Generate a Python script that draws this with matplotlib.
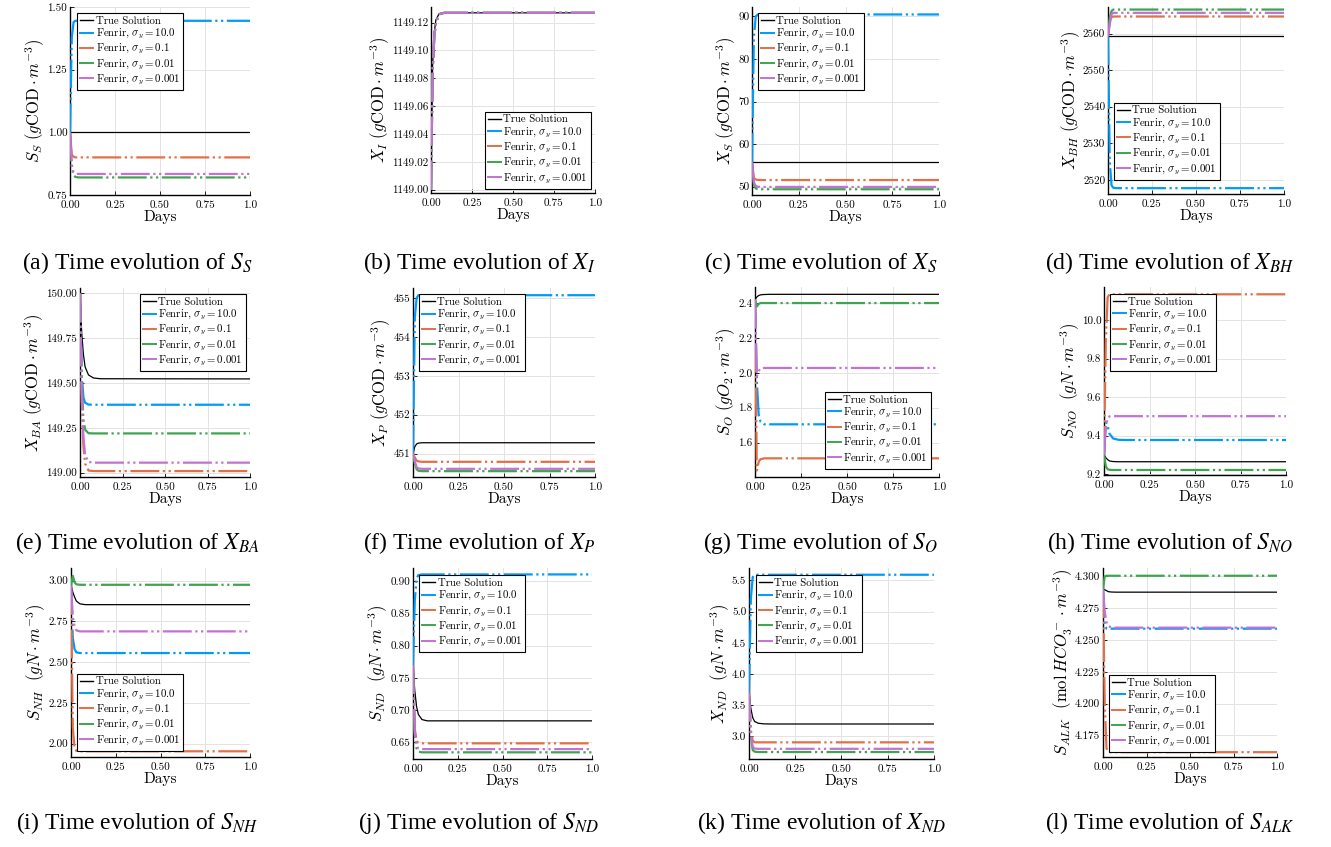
import matplotlib
matplotlib.use("Agg")
import matplotlib.pyplot as plt

plt.rcParams["font.family"] = "cmr10"
plt.rcParams["mathtext.fontset"] = "cm"
plt.rcParams["axes.unicode_minus"] = False
plt.rcParams["axes.formatter.use_mathtext"] = True

# ---------------- data ----------------
T_DAYS = [0.0, 0.01, 0.02, 0.03, 0.05, 0.08, 0.12, 1.0]
SERIES_LABELS = ["True Solution",
                 r"Fenrir, $\sigma_y = 10.0$",
                 r"Fenrir, $\sigma_y = 0.1$",
                 r"Fenrir, $\sigma_y = 0.01$",
                 r"Fenrir, $\sigma_y = 0.001$"]
XTICK_LABELS = ["0.00", "0.25", "0.50", "0.75", "1.0"]

# order of rows: true, 10.0, 0.1, 0.01, 0.001
SS_VALUES = [
    [1.00, 1.00, 1.00, 1.00, 1.00, 1.00, 1.00, 1.00],
    [1.00, 1.38, 1.44, 1.445, 1.445, 1.445, 1.445, 1.445],
    [1.00, 0.91, 0.903, 0.90, 0.90, 0.90, 0.90, 0.90],
    [1.00, 0.86, 0.83, 0.822, 0.82, 0.82, 0.82, 0.82],
    [1.00, 0.87, 0.84, 0.835, 0.834, 0.834, 0.834, 0.834]]
SS_YTICKS = ["0.75", "1.00", "1.25", "1.50"]

XI_VALUES = [
    [1149.00, 1149.09, 1149.113, 1149.122, 1149.1265, 1149.127, 1149.127, 1149.127],
    [1149.00, 1149.085, 1149.11, 1149.12, 1149.126, 1149.127, 1149.127, 1149.127],
    [1149.00, 1149.085, 1149.11, 1149.12, 1149.126, 1149.127, 1149.127, 1149.127],
    [1149.00, 1149.085, 1149.11, 1149.12, 1149.126, 1149.127, 1149.127, 1149.127],
    [1149.00, 1149.085, 1149.11, 1149.12, 1149.126, 1149.127, 1149.127, 1149.127]]
XI_YTICKS = ["1149.00", "1149.02", "1149.04", "1149.06", "1149.08", "1149.10", "1149.12"]

XS_VALUES = [
    [55.8, 55.8, 55.8, 55.8, 55.8, 55.8, 55.8, 55.8],
    [55.8, 85.0, 90.0, 90.4, 90.45, 90.45, 90.45, 90.45],
    [55.8, 52.0, 51.7, 51.6, 51.56, 51.56, 51.56, 51.56],
    [55.8, 50.5, 49.6, 49.45, 49.4, 49.4, 49.4, 49.4],
    [55.8, 51.0, 50.2, 50.0, 49.95, 49.95, 49.95, 49.95]]
XS_YTICKS = ["50", "60", "70", "80", "90"]

XBH_VALUES = [
    [2559.3, 2559.3, 2559.3, 2559.3, 2559.3, 2559.3, 2559.3, 2559.3],
    [2559.3, 2525.0, 2518.5, 2517.8, 2517.7, 2517.7, 2517.7, 2517.7],
    [2559.3, 2563.5, 2564.5, 2564.7, 2564.7, 2564.7, 2564.7, 2564.7],
    [2559.3, 2564.5, 2566.2, 2566.6, 2566.6, 2566.6, 2566.6, 2566.6],
    [2559.3, 2562.5, 2565.3, 2565.7, 2565.7, 2565.7, 2565.7, 2565.7]]
XBH_YTICKS = ["2520", "2530", "2540", "2550", "2560"]

XBA_VALUES = [
    [150.0, 149.78, 149.66, 149.59, 149.545, 149.528, 149.524, 149.523],
    [150.0, 149.55, 149.42, 149.39, 149.38, 149.379, 149.379, 149.379],
    [150.0, 149.40, 149.15, 149.05, 149.012, 149.009, 149.009, 149.009],
    [150.0, 149.50, 149.30, 149.24, 149.22, 149.219, 149.219, 149.219],
    [150.0, 149.45, 149.20, 149.10, 149.06, 149.056, 149.056, 149.056]]
XBA_YTICKS = ["149.00", "149.25", "149.50", "149.75", "150.00"]

XP_VALUES = [
    [451.0, 451.18, 451.25, 451.27, 451.28, 451.28, 451.28, 451.28],
    [451.0, 454.5, 455.0, 455.07, 455.07, 455.07, 455.07, 455.07],
    [451.0, 450.9, 450.82, 450.80, 450.79, 450.79, 450.79, 450.79],
    [451.0, 450.75, 450.60, 450.56, 450.55, 450.55, 450.55, 450.55],
    [451.0, 450.80, 450.65, 450.62, 450.61, 450.61, 450.61, 450.61]]
XP_YTICKS = ["451", "452", "453", "454", "455"]

SO_VALUES = [
    [2.42, 2.435, 2.443, 2.447, 2.449, 2.45, 2.45, 2.45],
    [2.42, 1.95, 1.76, 1.72, 1.705, 1.705, 1.705, 1.705],
    [2.42, 1.44, 1.49, 1.505, 1.51, 1.51, 1.51, 1.51],
    [2.42, 2.38, 2.395, 2.40, 2.40, 2.40, 2.40, 2.40],
    [2.42, 1.98, 2.01, 2.025, 2.028, 2.028, 2.028, 2.028]]
SO_YTICKS = ["1.6", "1.8", "2.0", "2.2", "2.4"]

SNO_VALUES = [
    [9.30, 9.285, 9.275, 9.268, 9.265, 9.264, 9.264, 9.264],
    [9.30, 9.47, 9.45, 9.41, 9.385, 9.378, 9.377, 9.377],
    [9.30, 9.90, 10.12, 10.135, 10.135, 10.135, 10.135, 10.135],
    [9.30, 9.24, 9.225, 9.222, 9.221, 9.221, 9.221, 9.221],
    [9.30, 9.44, 9.49, 9.50, 9.501, 9.501, 9.501, 9.501]]
SNO_YTICKS = ["9.2", "9.4", "9.6", "9.8", "10.0"]

SNH_VALUES = [
    [2.97, 2.93, 2.90, 2.875, 2.858, 2.853, 2.853, 2.853],
    [2.97, 2.65, 2.58, 2.56, 2.556, 2.556, 2.556, 2.556],
    [2.97, 2.10, 1.97, 1.955, 1.953, 1.953, 1.953, 1.953],
    [2.97, 3.03, 2.99, 2.978, 2.975, 2.975, 2.975, 2.975],
    [2.97, 2.78, 2.72, 2.695, 2.689, 2.689, 2.689, 2.689]]
SNH_YTICKS = ["2.00", "2.25", "2.50", "2.75", "3.00"]

SND_VALUES = [
    [0.77, 0.73, 0.705, 0.693, 0.685, 0.683, 0.683, 0.683],
    [0.77, 0.87, 0.905, 0.91, 0.911, 0.911, 0.911, 0.911],
    [0.77, 0.67, 0.652, 0.649, 0.648, 0.648, 0.648, 0.648],
    [0.77, 0.66, 0.640, 0.635, 0.634, 0.634, 0.634, 0.634],
    [0.77, 0.665, 0.645, 0.640, 0.639, 0.639, 0.639, 0.639]]
SND_YTICKS = ["0.65", "0.70", "0.75", "0.80", "0.85", "0.90"]

XND_VALUES = [
    [3.70, 3.45, 3.30, 3.24, 3.21, 3.20, 3.198, 3.198],
    [3.70, 5.20, 5.55, 5.59, 5.59, 5.59, 5.59, 5.59],
    [3.70, 3.10, 2.93, 2.905, 2.904, 2.904, 2.904, 2.904],
    [3.70, 3.00, 2.78, 2.755, 2.749, 2.749, 2.749, 2.749],
    [3.70, 3.05, 2.83, 2.805, 2.80, 2.80, 2.80, 2.80]]
XND_YTICKS = ["3.0", "3.5", "4.0", "4.5", "5.0", "5.5"]

SALK_VALUES = [
    [4.290, 4.2895, 4.2888, 4.2880, 4.2877, 4.2876, 4.2876, 4.2876],
    [4.290, 4.262, 4.259, 4.2589, 4.2589, 4.2589, 4.2589, 4.2589],
    [4.290, 4.200, 4.165, 4.162, 4.1618, 4.1618, 4.1618, 4.1618],
    [4.290, 4.300, 4.3005, 4.3005, 4.3005, 4.3005, 4.3005, 4.3005],
    [4.290, 4.272, 4.264, 4.261, 4.2597, 4.2597, 4.2597, 4.2597]]
SALK_YTICKS = ["4.175", "4.200", "4.225", "4.250", "4.275", "4.300"]

# ---------------- styling / layout ----------------
COLORS = ["black", "#009AFA", "#E36F47", "#3EA44E", "#C371D2"]
DASHDOTDOT = (0, (13, 1.6, 1, 1.6, 1, 1.6))
W, H = 1331, 847

panels = [
    # values, yticks, ylim, ylabel, caption, rect px (l, t, r, b), legend loc, anchor
    (SS_VALUES, SS_YTICKS, (0.75, 1.50), r"$S_S\ (g\mathrm{COD}\cdot m^{-3})$",
     r"(a) Time evolution of $S_S$", (70, 7, 250, 195), "upper left", (0.04, 0.968)),
    (XI_VALUES, XI_YTICKS, (1148.9976, 1149.1312), r"$X_I\ (g\mathrm{COD}\cdot m^{-3})$",
     r"(b) Time evolution of $X_I$", (431, 7, 595, 193), "lower right", (0.976, 0.022)),
    (XS_VALUES, XS_YTICKS, (48.05, 92.2), r"$X_S\ (g\mathrm{COD}\cdot m^{-3})$",
     r"(c) Time evolution of $X_S$", (752, 7, 939, 195), "upper left", (0.032, 0.968)),
    (XBH_VALUES, XBH_YTICKS, (2516.1, 2567.3), r"$X_{BH}\ (g\mathrm{COD}\cdot m^{-3})$",
     r"(d) Time evolution of $X_{BH}$", (1108, 7, 1284, 194), "lower left", (0.034, 0.075)),
    (XBA_VALUES, XBA_YTICKS, (148.976, 150.03), r"$X_{BA}\ (g\mathrm{COD}\cdot m^{-3})$",
     r"(e) Time evolution of $X_{BA}$", (80, 288, 250, 477), "upper right", (0.976, 0.968)),
    (XP_VALUES, XP_YTICKS, (450.40, 455.255), r"$X_P\ (g\mathrm{COD}\cdot m^{-3})$",
     r"(f) Time evolution of $X_P$", (413, 288, 595, 477), "upper left", (0.033, 0.968)),
    (SO_VALUES, SO_YTICKS, (1.403, 2.492), r"$S_O\ (gO_2\cdot m^{-3})$",
     r"(g) Time evolution of $S_O$", (755, 287, 939, 477), "lower right", (0.957, 0.042)),
    (SNO_VALUES, SNO_YTICKS, (9.195, 10.173), r"$S_{NO}\ \ (gN\cdot m^{-3})$",
     r"(h) Time evolution of $S_{NO}$", (1104, 287, 1286, 475), "upper left", (0.033, 0.963)),
    (SNH_VALUES, SNH_YTICKS, (1.918, 3.078), r"$S_{NH}\ \ (gN\cdot m^{-3})$",
     r"(i) Time evolution of $S_{NH}$", (71, 568, 250, 757), "lower left", (0.034, 0.032)),
    (SND_VALUES, SND_YTICKS, (0.6236, 0.921), r"$S_{ND}\ \ (gN\cdot m^{-3})$",
     r"(j) Time evolution of $S_{ND}$", (413, 568, 592, 759), "upper left", (0.034, 0.963)),
    (XND_VALUES, XND_YTICKS, (2.637, 5.698), r"$X_{ND}\ \ (gN\cdot m^{-3})$",
     r"(k) Time evolution of $X_{ND}$", (749, 568, 934, 759), "upper left", (0.038, 0.963)),
    (SALK_VALUES, SALK_YTICKS, (4.158, 4.3066), r"$S_{ALK}\ \ (\mathrm{mol}\,HCO_3^-\cdot m^{-3})$",
     r"(l) Time evolution of $S_{ALK}$", (1103, 568, 1277, 757), "lower left", (0.034, 0.026)),
]
CAPTION_X = [137, 479, 821, 1170]
CAPTION_Y = [263, 543, 823]

fig = plt.figure(figsize=(W / 100, H / 100), dpi=100)

for k, (vals, yt, ylim, ylab, cap, (l, t, r, b), loc, anchor) in enumerate(panels):
    ax = fig.add_axes([l / W, 1 - b / H, (r - l) / W, (b - t) / H])
    for i, (series, lab) in enumerate(zip(vals, SERIES_LABELS)):
        if i == 0:
            ax.plot(T_DAYS, series, color=COLORS[i], lw=0.9, label=lab, zorder=3)
        else:
            ax.plot(T_DAYS, series, color=COLORS[i], lw=1.6, ls=DASHDOTDOT,
                    label=lab, zorder=3 + i)
    ax.set_xlim(0, 1.0)
    ax.set_ylim(*ylim)
    ax.set_xticks([float(s) for s in XTICK_LABELS])
    ax.set_xticklabels(XTICK_LABELS)
    ax.set_yticks([float(s) for s in yt])
    ax.set_yticklabels(yt)
    ax.tick_params(direction="in", length=3, width=0.6, labelsize=8)
    ax.tick_params(axis="y", pad=2)
    ax.tick_params(axis="x", pad=4)
    ax.grid(True, color="#e3e3e3", lw=0.7)
    ax.set_axisbelow(True)
    for s in ["top", "right"]:
        ax.spines[s].set_visible(False)
    for s in ["left", "bottom"]:
        ax.spines[s].set_linewidth(1.0)
    ax.set_xlabel("Days", fontsize=11, labelpad=0)
    ax.set_ylabel(ylab, fontsize=12, labelpad=0)
    leg = ax.legend(loc=loc, bbox_to_anchor=anchor, borderaxespad=0, fontsize=7.8,
                    frameon=True, fancybox=False, framealpha=1, edgecolor="black",
                    handlelength=1.2, handletextpad=0.2, borderpad=0.3,
                    labelspacing=0.08)
    leg.get_frame().set_linewidth(0.8)
    for j, ln in enumerate(leg.get_lines()):
        ln.set_linestyle("-")
        ln.set_linewidth(1.0 if j == 0 else 1.4)
    fig.text(CAPTION_X[k % 4] / W, 1 - CAPTION_Y[k // 4] / H, cap,
             ha="center", va="center", fontsize=17,
             family="Liberation Serif", math_fontfamily="stix")

fig.savefig("out.png", dpi=100)
